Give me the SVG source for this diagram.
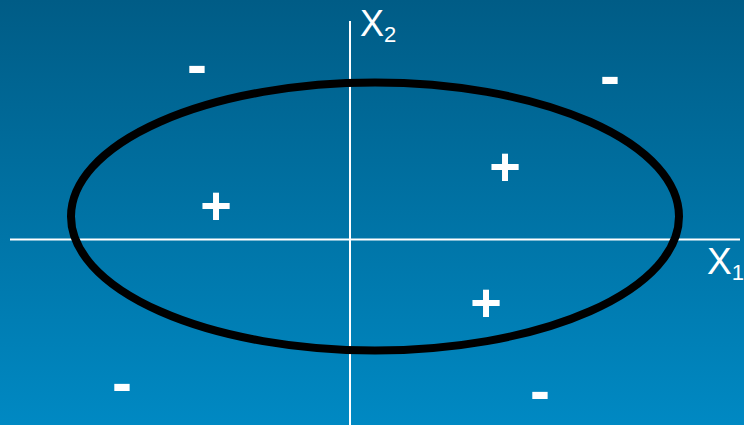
<svg xmlns="http://www.w3.org/2000/svg" width="744" height="425" viewBox="0 0 744 425">
<defs>
<linearGradient id="bg" x1="0" y1="0" x2="0" y2="1">
<stop offset="0" stop-color="#005C86"/>
<stop offset="1" stop-color="#0089C3"/>
</linearGradient>
<style>
.ax{stroke:#fff;stroke-width:2;fill:none}
.t{fill:#fff;font-family:"Liberation Sans",Arial,sans-serif}
.p{font-size:54px;font-weight:bold;text-anchor:middle}
.m{font-size:60px;font-weight:bold;text-anchor:middle}
</style>
</defs>
<rect width="744" height="425" fill="url(#bg)"/>
<g id="connectors">
<line class="ax" x1="10" y1="239.5" x2="740" y2="239.5"/>
<line class="ax" x1="350" y1="21" x2="350" y2="425"/>
</g>
<g id="boundary">
<ellipse cx="375" cy="216.5" rx="304" ry="134" fill="none" stroke="#000" stroke-width="8"/>
</g>
<g id="axis-x2"><text class="t" x="360" y="36" font-size="36">X<tspan font-size="22" dy="6">2</tspan></text></g>
<g id="axis-x1"><text class="t" x="707" y="274" font-size="37">X<tspan font-size="22" dy="6">1</tspan></text></g>
<g id="signs">
<text class="t m" x="197" y="85">-</text>
<text class="t m" x="610" y="96">-</text>
<text class="t m" x="122" y="403">-</text>
<text class="t m" x="540" y="411">-</text>
<text class="t p" x="216" y="224">+</text>
<text class="t p" x="505" y="185">+</text>
<text class="t p" x="486" y="321">+</text>
</g>
</svg>
